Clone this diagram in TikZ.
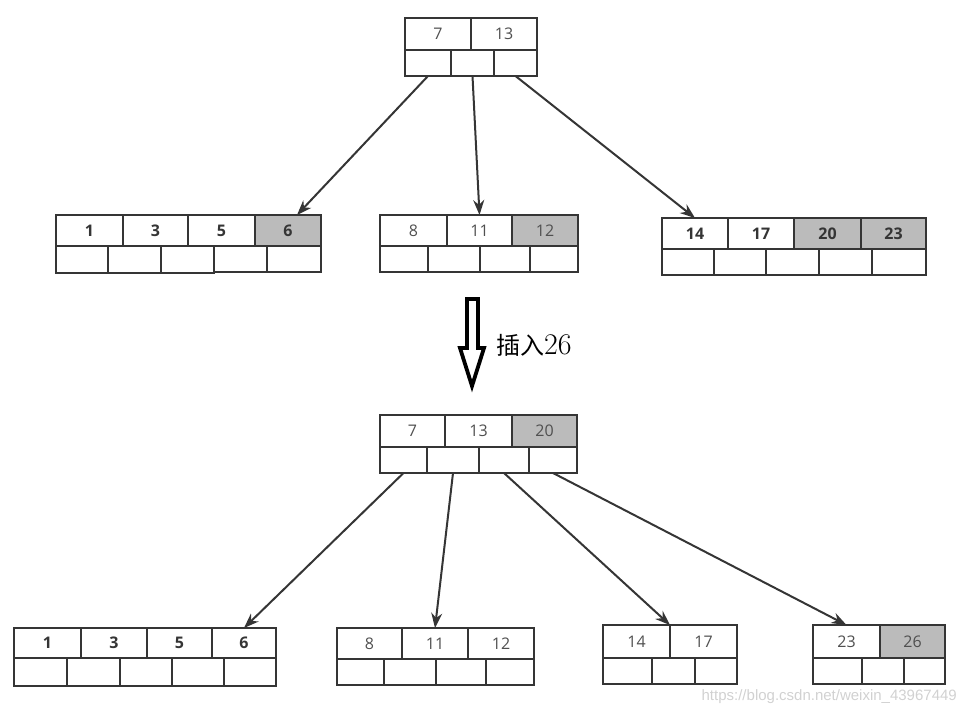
\documentclass[tikz,border=0pt]{standalone}
\usepackage{fontspec}
\setmainfont{Open Sans}
\newfontfamily\cjk{Noto Sans CJK SC}
\newfontfamily\wm{Liberation Sans}
\usetikzlibrary{arrows.meta,calc}
\definecolor{edge}{HTML}{353535}
\definecolor{shade}{HTML}{BBBBBB}
\definecolor{numtxt}{HTML}{505050}
\tikzset{
  cell/.style={draw=edge,line width=2.2pt,inner sep=0pt,outer sep=0pt,fill=white,
    font=\fontsize{16}{18}\selectfont,text=numtxt},
  boldcell/.style={cell,font=\fontsize{16}{18}\selectfont\bfseries,text=edge},
  grey/.style={fill=shade},
  link/.style={draw=edge,line width=2pt,-{Stealth[length=15pt,width=11pt]}},
}
\newcommand\cel[7]{\node[#6,minimum width={#3-#2},minimum height={#5-#4}] (#1) at ({(#2+#3)/2},{(#4+#5)/2}) {#7};}
\begin{document}
\begin{tikzpicture}[x=1pt,y=-1pt]
\useasboundingbox (0,0) rectangle (965,716);
% ---------- top tree ----------
\cel{T1}{405}{471}{18}{50}{cell}{7}
\cel{T2}{471}{537}{18}{50}{cell}{13}
\cel{Tb1}{405}{451}{50}{76}{cell}{}
\cel{Tb2}{451}{494}{50}{76}{cell}{}
\cel{Tb3}{494}{537}{50}{76}{cell}{}
% leaf A
\cel{A1}{56}{123}{215}{246}{boldcell}{1}
\cel{A2}{123}{188}{215}{246}{boldcell}{3}
\cel{A3}{188}{255}{215}{246}{boldcell}{5}
\cel{A4}{255}{321}{215}{246}{boldcell,grey}{6}
\cel{Ab1}{56}{108}{246}{273}{cell}{}
\cel{Ab2}{108}{161}{246}{273}{cell}{}
\cel{Ab3}{161}{214}{246}{273}{cell}{}
\cel{Ab4}{214}{267}{246}{272}{cell}{}
\cel{Ab5}{267}{321}{246}{272}{cell}{}
% leaf B
\cel{B1}{380}{447}{215}{246}{cell}{8}
\cel{B2}{447}{512}{215}{246}{cell}{11}
\cel{B3}{512}{578}{215}{246}{cell,grey}{12}
\cel{Bb1}{380}{428}{246}{272}{cell}{}
\cel{Bb2}{428}{480}{246}{272}{cell}{}
\cel{Bb3}{480}{530}{246}{272}{cell}{}
\cel{Bb4}{530}{578}{246}{272}{cell}{}
% leaf C
\cel{C1}{662}{728}{218}{249}{boldcell}{14}
\cel{C2}{728}{794}{218}{249}{boldcell}{17}
\cel{C3}{794}{861}{218}{249}{boldcell,grey}{20}
\cel{C4}{861}{926}{218}{249}{boldcell,grey}{23}
\cel{Cb1}{662}{714}{249}{275}{cell}{}
\cel{Cb2}{714}{766}{249}{275}{cell}{}
\cel{Cb3}{766}{819}{249}{275}{cell}{}
\cel{Cb4}{819}{872}{249}{275}{cell}{}
\cel{Cb5}{872}{926}{249}{275}{cell}{}
% top links
\draw[link] (Tb1.south) -- ($(A4.north)+(9,0)$);
\draw[link] (Tb2.south) -- (B2.north);
\draw[link] (Tb3.south) -- (C1.north);
% ---------- hollow arrow and label ----------
\draw[line width=3.8pt,black,miter limit=10] (467,299) -- (478,299) -- (478,348) -- (484,348)
  -- (472,386) -- (460,348) -- (467,348) -- cycle;
\node[anchor=west,inner sep=0pt,font=\fontsize{24}{26}\selectfont] (lbl) at (496,345)
  {{\cjk 插入}{\fontspec{Latin Modern Roman}\fontsize{30}{32}\selectfont 26}};
% ---------- bottom tree ----------
\cel{R1}{380}{445}{415}{447}{cell}{7}
\cel{R2}{445}{512}{415}{447}{cell}{13}
\cel{R3}{512}{577}{415}{447}{cell,grey}{20}
\cel{Rb1}{380}{427}{447}{473}{cell}{}
\cel{Rb2}{427}{479}{447}{473}{cell}{}
\cel{Rb3}{479}{529}{447}{473}{cell}{}
\cel{Rb4}{529}{577}{447}{473}{cell}{}
% leaf D
\cel{D1}{14}{81}{628}{658}{boldcell}{1}
\cel{D2}{81}{147}{628}{658}{boldcell}{3}
\cel{D3}{147}{212}{628}{658}{boldcell}{5}
\cel{D4}{212}{276}{628}{658}{boldcell}{6}
\cel{Db1}{14}{67}{658}{686}{cell}{}
\cel{Db2}{67}{120}{658}{686}{cell}{}
\cel{Db3}{120}{172}{658}{686}{cell}{}
\cel{Db4}{172}{224}{658}{686}{cell}{}
\cel{Db5}{224}{276}{658}{686}{cell}{}
% leaf E
\cel{E1}{337}{402}{628}{659}{cell}{8}
\cel{E2}{402}{468}{628}{659}{cell}{11}
\cel{E3}{468}{534}{628}{659}{cell}{12}
\cel{Eb1}{337}{384}{659}{685}{cell}{}
\cel{Eb2}{384}{436}{659}{685}{cell}{}
\cel{Eb3}{436}{486}{659}{685}{cell}{}
\cel{Eb4}{486}{534}{659}{685}{cell}{}
% leaf F
\cel{F1}{603}{670}{625}{658}{cell}{14}
\cel{F2}{670}{737}{625}{658}{cell}{17}
\cel{Fb1}{603}{652}{658}{684}{cell}{}
\cel{Fb2}{652}{695}{658}{684}{cell}{}
\cel{Fb3}{695}{737}{658}{684}{cell}{}
% leaf G
\cel{G1}{813}{880}{625}{658}{cell}{23}
\cel{G2}{880}{945}{625}{658}{cell,grey}{26}
\cel{Gb1}{813}{862}{658}{684}{cell}{}
\cel{Gb2}{862}{904}{658}{684}{cell}{}
\cel{Gb3}{904}{945}{658}{684}{cell}{}
% bottom links
\draw[link] (Rb1.south) -- (D4.north);
\draw[link] (Rb2.south) -- (E2.north);
\draw[link] (Rb3.south) -- (F1.north east);
\draw[link] (Rb4.south) -- (G1.north);
% watermark
\node[anchor=east,inner sep=0pt,font=\wm\fontsize{15}{17}\selectfont,text=black!18] (wmk) at (957,697)
  {https://blog.csdn.net/weixin\_43967449};
\end{tikzpicture}
\end{document}
